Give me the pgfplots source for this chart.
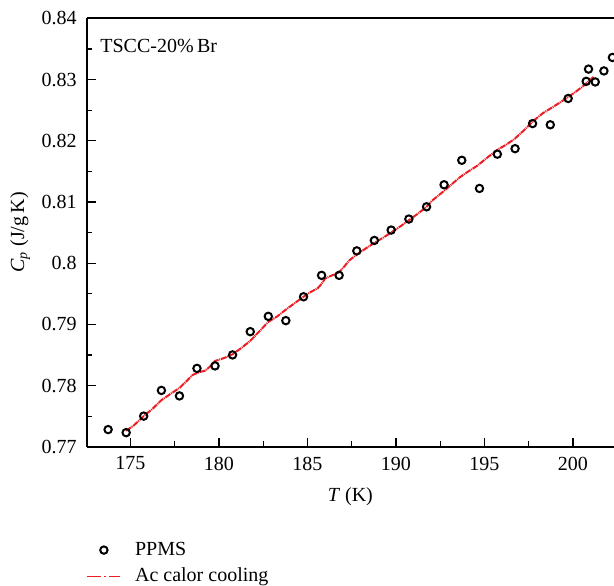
\documentclass[border=0pt]{standalone}
\usepackage{fontspec}
\setmainfont{Liberation Serif}
\usepackage{pgfplots}
\pgfplotsset{compat=1.18}
\definecolor{cred}{RGB}{235,30,36}
\begin{document}
\fontsize{10}{12}\selectfont
\begin{tikzpicture}
\useasboundingbox (0,0) rectangle (307pt,292.5pt);
\begin{axis}[
  at={(43.35pt,69.15pt)}, anchor=south west,
  scale only axis, width=263.65pt, height=214.2pt,
  xmin=172.53, xmax=202.32, ymin=0.77, ymax=0.84,
  axis y line*=left,
  xtick={175,180,185,190,195,200},
  ytick={0.77,0.78,0.79,0.80,0.81,0.82,0.83,0.84},
  minor x tick num=1, minor y tick num=1,
  xtick pos=left, ytick pos=left,
  tick align=inside, major tick length=4.5pt, minor tick length=2.7pt,
  every tick/.style={black, line width=0.6pt},
  axis line style={line width=0.9pt},
  /pgf/number format/assume math mode=true,
  ticklabel style={font=\fontsize{10}{12}\selectfont},
  yticklabel style={xshift=-1.5pt},
  xticklabel style={yshift=-1.5pt},
  xlabel={\textit{T} (K)},
  xlabel style={at={(axis description cs:0.5,-0.1158)}, anchor=center},
  ylabel={\textit{C}\textsubscript{\textit{p}} (J/g\,K)},
  ylabel style={at={(axis description cs:-0.126,0.5)}, anchor=center},
  legend style={at={(axis description cs:0,-0.2203)}, anchor=north west,
    draw=none, fill=none, inner sep=0pt, outer sep=0pt,
    font=\fontsize{10}{12}\selectfont,
    nodes={inner sep=0pt, text height=7pt, text depth=2pt},
    row sep=4.35pt, column sep=7pt},
  legend cell align=left,
  legend image code/.code={\draw[mark repeat=2,mark phase=2,#1] plot coordinates {(0pt,0pt)(8.25pt,0pt)(16.5pt,0pt)};},
]
\addplot[only marks, mark=o, mark size=1.85pt, mark options={line width=1pt, black}] coordinates {
(173.74,0.7728) (174.76,0.7723) (175.75,0.7750) (176.75,0.7792) (177.77,0.7783)
(178.76,0.7828) (179.78,0.7832) (180.77,0.7850) (181.77,0.7888) (182.79,0.7913)
(183.78,0.7906) (184.78,0.7945) (185.80,0.7980) (186.79,0.7980) (187.79,0.8020)
(188.78,0.8037) (189.73,0.8054) (190.73,0.8072) (191.73,0.8092) (192.72,0.8128)
(193.72,0.8168) (194.72,0.8122) (195.73,0.8178) (196.73,0.8187) (197.72,0.8228)
(198.72,0.8226) (199.73,0.8269) (200.75,0.8297) (200.88,0.8317) (201.26,0.8296)
(201.75,0.8314) (202.23,0.8336)
};
\addlegendentry{PPMS}
\addplot[cred, line width=1pt, dash pattern=on 3pt off 0.4pt on 0.5pt off 0.4pt,
  legend image code/.code={\draw[cred, line width=0.7pt, dash pattern=on 7pt off 1.3pt on 1pt off 1.3pt] (0pt,0pt) -- (16.5pt,0pt);}] coordinates {
(174.76,0.7726) (175.2,0.7735) (175.75,0.7750) (176.25,0.7762) (176.75,0.7776)
(177.3,0.7787) (177.77,0.7796) (178.2,0.7808) (178.5,0.7817) (178.9,0.7822)
(179.2,0.7824) (179.5,0.7831) (179.78,0.7840) (180.3,0.7845) (180.77,0.7851)
(181.3,0.7862) (181.77,0.7873) (182.3,0.7889) (182.79,0.7904) (183.3,0.7913)
(183.78,0.7924) (184.3,0.7935) (184.78,0.7945) (185.2,0.7953) (185.58,0.7959)
(185.8,0.7966) (186.0,0.7975) (186.24,0.7978) (186.79,0.7985) (187.1,0.7995)
(187.35,0.8004) (187.79,0.8014) (188.3,0.8024) (188.78,0.8033) (189.25,0.8041)
(189.73,0.8050) (190.25,0.8060) (190.73,0.8070) (191.25,0.8081) (191.73,0.8092)
(192.04,0.8102) (192.72,0.8118) (193.08,0.8127) (193.6,0.8140) (194.1,0.8150)
(194.59,0.8159) (195.1,0.8171) (195.72,0.8185) (196.2,0.8193) (196.66,0.8202)
(197.2,0.8216) (197.79,0.8233) (198.3,0.8245) (198.92,0.8256) (199.3,0.8263)
(199.77,0.8272) (200.2,0.8281) (200.53,0.8288) (200.9,0.8297) (201.19,0.8305)
};
\addlegendentry{Ac calor cooling}
\node[anchor=west, inner sep=0pt, font=\fontsize{10}{12}\selectfont] at (axis cs:173.28,0.8355) {TSCC-20\%\,Br};
\end{axis}
\end{tikzpicture}
\end{document}
